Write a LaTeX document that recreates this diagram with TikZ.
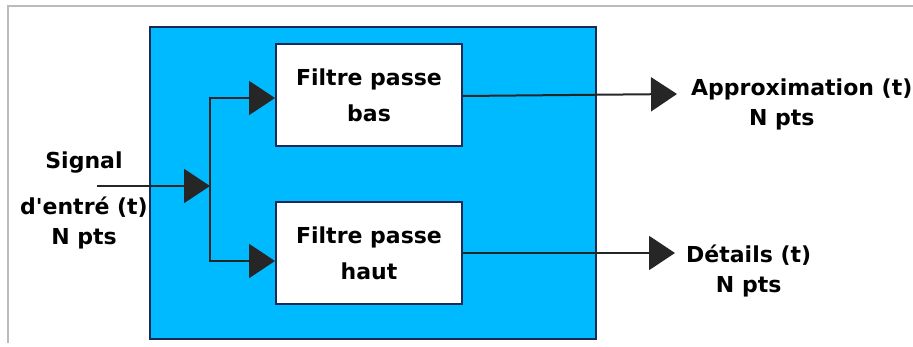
\documentclass[tikz,border=0pt]{standalone}
\usepackage{fontspec}
\setmainfont{DejaVu Sans}[Ligatures=TeXOff]
\usetikzlibrary{arrows.meta}
\definecolor{skyb}{HTML}{00BAFF}
\definecolor{navy}{HTML}{1B2A55}
\definecolor{framegray}{HTML}{BBBBBB}
\tikzset{
  lbl/.style={font=\fontsize{22}{30}\selectfont\bfseries, align=center, inner sep=0pt, text=black},
  filterbox/.style={draw=navy, fill=white, line width=2pt, minimum width=186pt, minimum height=102pt, inner sep=0pt,
    font=\fontsize{22}{36}\selectfont\bfseries, align=center},
  sig/.style={line width=2pt, draw=black!85},
  bigarrow/.style={-{Triangle[length=26pt,width=34pt]}}
}
\begin{document}
\begin{tikzpicture}[x=1pt,y=-1pt]
\useasboundingbox (0,0) rectangle (913,347);
% outer frame (top and left only)
\draw[framegray, line width=1.5pt] (913,6) -- (8,6) -- (8,343);
% blue block
\node[draw=navy, fill=skyb, line width=2pt, minimum width=446pt, minimum height=312pt, inner sep=0pt] (blk) at (373,183) {};
% filters
\node[filterbox] (lp) at (369,95) {Filtre passe\\bas};
\node[filterbox] (hp) at (369,253) {Filtre passe\\haut};
% input
\node[lbl] (inp) at (84,200) {Signal\\[16pt]d'entré (t)\\N pts};
\coordinate (src) at (97,186);
\coordinate (j) at (210,186);
\draw[sig, bigarrow] (src) -- (j);
\draw[sig, bigarrow] (j) |- ([yshift=-3pt]lp.west);
\draw[sig, bigarrow] (j) |- ([yshift=-8pt]hp.west);
% outputs
\node[lbl, anchor=west] (appr) at (691,104) {Approximation (t)\\N pts\hspace*{40pt}};
\node[lbl, anchor=west] (det) at (686,271) {Détails (t)\\N pts};
\coordinate (aout) at (677,94);
\coordinate (dout) at (675,253);
\draw[sig, bigarrow] ([yshift=-1pt]lp.east) -- (aout);
\draw[sig, bigarrow] (hp.east) -- (dout);
\end{tikzpicture}
\end{document}
